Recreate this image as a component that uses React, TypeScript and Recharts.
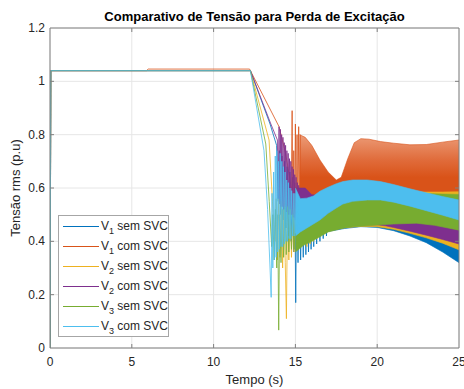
import React from 'react'
import {
  ComposedChart,
  Area,
  XAxis,
  YAxis,
  CartesianGrid,
  ReferenceLine,
  Legend,
} from 'recharts'

const FONT = '"Liberation Sans", Arial, Helvetica, sans-serif'
const AXIS = '#808080'
const TEXT = '#262626'

const title = 'Comparativo de Tensão para Perda de Excitação'
const xLabel = 'Tempo (s)'
const yLabel = 'Tensão rms (p.u)'
const xTicks = [0, 5, 10, 15, 20, 25]
const yTicks = [0, 0.2, 0.4, 0.6, 0.8, 1, 1.2]

// [t, v] : partida, regime, queda e primeiras oscilações
const v1SemTrace = [
  [0, 0], [0.05, 1.04], [12.25, 1.04], [13.45, 0.84], [13.85, 0.76], [13.95, 0.55],
  [14.02, 0.74], [14.1, 0.5], [14.18, 0.72], [14.26, 0.48], [14.34, 0.7], [14.42, 0.45],
  [14.5, 0.68], [14.58, 0.42], [14.66, 0.66], [14.74, 0.4], [14.82, 0.64], [14.9, 0.36],
  [14.96, 0.62], [15.02, 0.17], [15.08, 0.6], [15.16, 0.32], [15.24, 0.58], [15.32, 0.33],
  [15.4, 0.56], [15.48, 0.34], [15.56, 0.55], [15.64, 0.35], [15.72, 0.55], [15.8, 0.36],
  [15.88, 0.55], [15.96, 0.37], [16.04, 0.55], [16.12, 0.38], [16.2, 0.55], [16.3, 0.39],
  [16.4, 0.55], [16.5, 0.4], [16.6, 0.55], [16.7, 0.41], [16.8, 0.55], [16.9, 0.42], [17.0, 0.55],
]
const v1ComTrace = [
  [0, 0], [0.05, 1.04], [5.9, 1.04], [6.0, 1.046], [12.2, 1.046], [14.0, 0.83], [14.4, 0.73],
  [14.75, 0.6], [14.8, 0.89], [14.85, 0.5], [14.9, 0.74], [14.95, 0.5], [15.0, 0.84],
  [15.05, 0.48], [15.1, 0.8], [15.15, 0.48], [15.2, 0.83], [15.25, 0.48], [15.3, 0.8],
]
const v2SemTrace = [
  [0, 0], [0.05, 1.04], [12.25, 1.04], [13.39, 0.78], [13.6, 0.55], [13.75, 0.4], [13.82, 0.56],
  [13.9, 0.33], [13.98, 0.56], [14.06, 0.34], [14.14, 0.55], [14.22, 0.3], [14.3, 0.55],
  [14.38, 0.32], [14.45, 0.11], [14.52, 0.54], [14.6, 0.33], [14.68, 0.53], [14.76, 0.34],
  [14.84, 0.52], [14.92, 0.36], [15.0, 0.52], [15.1, 0.37], [15.2, 0.5], [15.3, 0.38],
  [15.4, 0.5], [15.5, 0.39], [15.6, 0.5], [15.7, 0.38], [15.8, 0.5], [15.9, 0.39], [16.0, 0.5],
  [16.1, 0.4], [16.2, 0.5], [16.3, 0.41], [16.4, 0.5], [16.5, 0.42],
]
const v2ComTrace = [
  [0, 0], [0.05, 1.04], [12.25, 1.04], [13.5, 0.84], [13.9, 0.78], [13.95, 0.56], [14.0, 0.83],
  [14.04, 0.54], [14.08, 0.82], [14.12, 0.53], [14.16, 0.8], [14.2, 0.53], [14.24, 0.79],
  [14.28, 0.52], [14.32, 0.77], [14.36, 0.52], [14.4, 0.76], [14.44, 0.51], [14.48, 0.74],
  [14.52, 0.51], [14.56, 0.73], [14.6, 0.5], [14.64, 0.71], [14.68, 0.5], [14.72, 0.7],
  [14.76, 0.5], [14.8, 0.68], [14.84, 0.49], [14.88, 0.67], [14.92, 0.49], [14.96, 0.65],
  [15.0, 0.48], [15.04, 0.64], [15.08, 0.48], [15.12, 0.62], [15.16, 0.47], [15.2, 0.61],
  [15.24, 0.47], [15.28, 0.6],
]
const v3SemTrace = [
  [0, 0], [0.05, 1.04], [12.25, 1.04], [13.19, 0.765], [13.4, 0.55], [13.55, 0.38], [13.62, 0.5],
  [13.7, 0.33], [13.78, 0.52], [13.86, 0.3], [13.92, 0.5], [13.98, 0.067], [14.04, 0.5],
  [14.12, 0.32], [14.2, 0.52], [14.28, 0.34], [14.36, 0.53], [14.44, 0.35], [14.52, 0.53],
  [14.6, 0.36], [14.68, 0.52], [14.76, 0.37], [14.84, 0.5], [14.92, 0.37], [15.0, 0.48],
]
const v3ComTrace = [
  [0, 0], [0.05, 1.04], [12.25, 1.04], [13.08, 0.74], [13.3, 0.52], [13.45, 0.3], [13.52, 0.19],
  [13.57, 0.58], [13.62, 0.3], [13.67, 0.66], [13.72, 0.33], [13.77, 0.72], [13.82, 0.34],
  [13.87, 0.74], [13.92, 0.36], [13.97, 0.7], [14.02, 0.37], [14.07, 0.73], [14.12, 0.38],
  [14.17, 0.7], [14.22, 0.38], [14.27, 0.68], [14.32, 0.39], [14.37, 0.66], [14.42, 0.4],
  [14.47, 0.63], [14.52, 0.4], [14.57, 0.62], [14.62, 0.41], [14.67, 0.6], [14.72, 0.41],
  [14.77, 0.59], [14.82, 0.42], [14.87, 0.58], [14.92, 0.42], [14.97, 0.58], [15.02, 0.43],
  [15.07, 0.58], [15.12, 0.43], [15.17, 0.57], [15.22, 0.44],
]

// [t, min, max] : envoltória da oscilação rápida
const v1SemBand = [
  [15.0, 0.42, 0.6], [16.0, 0.425, 0.6], [17.0, 0.437, 0.6], [18.0, 0.448, 0.6],
  [19.0, 0.455, 0.6], [20.0, 0.452, 0.6], [21.0, 0.44, 0.6], [22.0, 0.42, 0.6],
  [23.0, 0.395, 0.6], [24.0, 0.36, 0.6], [25.0, 0.32, 0.6],
]
const v1ComBand = [
  [15.25, 0.48, 0.8], [15.6, 0.5, 0.79], [16.0, 0.52, 0.76], [16.5, 0.55, 0.705],
  [17.0, 0.56, 0.66], [17.5, 0.57, 0.63], [17.8, 0.57, 0.64], [18.2, 0.58, 0.71],
  [18.6, 0.58, 0.77], [19.0, 0.58, 0.785], [19.5, 0.58, 0.783], [20.2, 0.58, 0.774],
  [21.0, 0.58, 0.768], [22.0, 0.58, 0.762], [23.0, 0.58, 0.763], [24.0, 0.58, 0.772],
  [25.0, 0.58, 0.78],
]
const v2SemBand = [
  [15.3, 0.39, 0.55], [16.0, 0.415, 0.56], [17.0, 0.44, 0.57], [18.0, 0.451, 0.575],
  [19.0, 0.456, 0.58], [20.0, 0.455, 0.582], [21.0, 0.445, 0.583], [22.0, 0.43, 0.584],
  [23.0, 0.413, 0.585], [24.0, 0.393, 0.585], [25.0, 0.368, 0.586],
]
const v2ComBand = [
  [15.2, 0.47, 0.6], [15.6, 0.46, 0.6], [16.0, 0.455, 0.575], [17.0, 0.455, 0.57],
  [18.0, 0.458, 0.57], [19.0, 0.462, 0.57], [20.0, 0.462, 0.57], [20.5, 0.458, 0.57],
  [21.0, 0.452, 0.57], [22.0, 0.438, 0.57], [23.0, 0.423, 0.57], [24.0, 0.407, 0.57],
  [25.0, 0.39, 0.57],
]
const v3SemBand = [
  [15.0, 0.36, 0.46], [15.5, 0.385, 0.46], [16.0, 0.4, 0.465], [16.5, 0.417, 0.48],
  [17.0, 0.435, 0.505], [17.9, 0.449, 0.543], [18.5, 0.455, 0.555], [19.4, 0.458, 0.565],
  [20.0, 0.461, 0.57], [21.0, 0.465, 0.575], [22.4, 0.468, 0.578], [23.5, 0.46, 0.578],
  [25.0, 0.442, 0.576],
]
const v3ComBand = [
  [15.0, 0.42, 0.6], [15.3, 0.435, 0.56], [15.7, 0.45, 0.562], [16.1, 0.465, 0.57],
  [16.5, 0.48, 0.588], [17.0, 0.505, 0.603], [17.5, 0.525, 0.616], [17.9, 0.54, 0.624],
  [18.5, 0.55, 0.63], [19.4, 0.555, 0.63], [20.2, 0.555, 0.624], [21.0, 0.547, 0.613],
  [22.0, 0.532, 0.597], [23.0, 0.515, 0.582], [24.0, 0.498, 0.568], [25.0, 0.48, 0.555],
]

const series = [
  { id: 'v1sem', sub: '1', name: 'sem SVC', color: '#0072BD', trace: v1SemTrace, band: v1SemBand },
  { id: 'v1com', sub: '1', name: 'com SVC', color: '#D95319', trace: v1ComTrace, band: v1ComBand },
  { id: 'v2sem', sub: '2', name: 'sem SVC', color: '#EDB120', trace: v2SemTrace, band: v2SemBand },
  { id: 'v2com', sub: '2', name: 'com SVC', color: '#7E2F8E', trace: v2ComTrace, band: v2ComBand },
  { id: 'v3sem', sub: '3', name: 'sem SVC', color: '#77AC30', trace: v3SemTrace, band: v3SemBand },
  { id: 'v3com', sub: '3', name: 'com SVC', color: '#4DBEEE', trace: v3ComTrace, band: v3ComBand },
]

const PLOT_TOP = 28
const PLOT_RIGHT = 459

const XTick = (props: any) => {
  const { x, y, payload } = props
  const inner = payload.value > 0 && payload.value < 25
  return (
    <g>
      {inner && <line x1={x} y1={y} x2={x} y2={y - 4} stroke={AXIS} />}
      {inner && <line x1={x} y1={PLOT_TOP} x2={x} y2={PLOT_TOP + 4} stroke={AXIS} />}
      <text x={x} y={y + 18} textAnchor="middle" fill={TEXT} fontSize={12} fontFamily={FONT}>
        {payload.value}
      </text>
    </g>
  )
}

const YTick = (props: any) => {
  const { x, y, payload } = props
  const inner = payload.value > 0 && payload.value < 1.2
  return (
    <g>
      {inner && <line x1={x} y1={y} x2={x + 4} y2={y} stroke={AXIS} />}
      {inner && <line x1={PLOT_RIGHT} y1={y} x2={PLOT_RIGHT - 4} y2={y} stroke={AXIS} />}
      <text x={x - 5} y={y + 4} textAnchor="end" fill={TEXT} fontSize={12} fontFamily={FONT}>
        {payload.value}
      </text>
    </g>
  )
}

const renderLegend = () => (
  <div
    style={{
      width: 109,
      height: 120,
      border: '1px solid #a6a6a6',
      background: '#fff',
      fontFamily: FONT,
      fontSize: 12,
      color: TEXT,
    }}
  >
    {series.map((s) => (
      <div key={s.id} style={{ height: 20, display: 'flex', alignItems: 'center', whiteSpace: 'nowrap' }}>
        <span
          style={{
            display: 'inline-block',
            width: 37,
            height: 0,
            borderTop: `1px solid ${s.color}`,
            marginLeft: 4,
            marginRight: 2,
          }}
        />
        <span>
          V<span style={{ fontSize: 9, position: 'relative', top: 4 }}>{s.sub}</span> {s.name}
        </span>
      </div>
    ))}
  </div>
)

export default function App() {
  const layers = series.flatMap((s) => [
    <Area
      key={`${s.id}-band`}
      data={s.band.map(([t, lo, hi]) => ({ t, r: [lo, hi] }))}
      dataKey="r"
      type="linear"
      stroke={s.color}
      strokeWidth={0.6}
      fill={s.id === 'v1com' ? 'url(#orangeBand)' : s.color}
      fillOpacity={1}
      dot={false}
      activeDot={false}
      legendType="none"
      isAnimationActive={false}
    />,
    <Area
      key={`${s.id}-trace`}
      data={s.trace.map(([t, v]) => ({ t, v }))}
      dataKey="v"
      type="linear"
      stroke={s.color}
      strokeWidth={0.8}
      fill="none"
      dot={false}
      activeDot={false}
      legendType="none"
      isAnimationActive={false}
    />,
  ])

  return (
    <div style={{ position: 'absolute', left: 0, top: 0, width: 464, height: 389, background: '#fff' }}>
      <ComposedChart width={464} height={389} margin={{ top: 28, right: 5, bottom: 0, left: 0 }}>
        <defs>
          <linearGradient id="orangeBand" x1="0" y1="0" x2="0" y2="1">
            <stop offset="0%" stopColor="#EC9C78" />
            <stop offset="30%" stopColor="#E06B3A" />
            <stop offset="50%" stopColor="#D95319" />
          </linearGradient>
        </defs>
        <CartesianGrid stroke="#e6e6e6" />
        <XAxis
          dataKey="t"
          type="number"
          domain={[0, 25]}
          ticks={xTicks}
          interval={0}
          height={41}
          tickSize={0}
          tickMargin={0}
          tickLine={false}
          tick={XTick}
          axisLine={{ stroke: AXIS }}
          allowDataOverflow
          label={{ value: xLabel, position: 'insideBottom', offset: 5, fill: TEXT, fontSize: 13, fontFamily: FONT }}
        />
        <YAxis
          type="number"
          domain={[0, 1.2]}
          ticks={yTicks}
          interval={0}
          width={50}
          tickSize={0}
          tickMargin={0}
          tickLine={false}
          tick={YTick}
          axisLine={{ stroke: AXIS }}
          allowDataOverflow
          label={{
            value: yLabel,
            angle: -90,
            position: 'insideLeft',
            offset: 15,
            fill: TEXT,
            fontSize: 13,
            fontFamily: FONT,
            style: { textAnchor: 'middle' },
          }}
        />
        {layers}
        <ReferenceLine
          y={1.2}
          stroke={AXIS}
          label={{
            value: title,
            position: 'top',
            offset: 7,
            fill: '#000',
            fontSize: 13,
            fontWeight: 'bold',
            fontFamily: FONT,
          }}
        />
        <ReferenceLine x={25} stroke={AXIS} />
        <Legend
          layout="vertical"
          align="center"
          verticalAlign="middle"
          content={renderLegend}
          wrapperStyle={{ left: 58, top: 215, width: 111, height: 122 }}
        />
      </ComposedChart>
    </div>
  )
}
